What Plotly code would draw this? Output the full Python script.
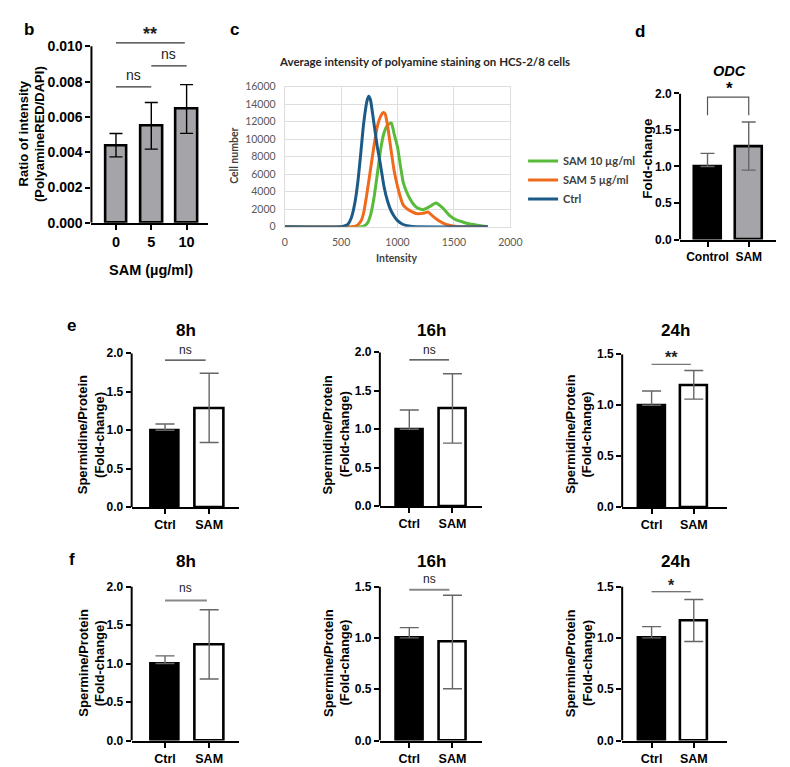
import plotly.graph_objects as go

W, H = 790, 767

# ---------------- data ----------------
# Panel b
b_doses = ['0', '5', '10']
b_mean = [0.0044, 0.0055, 0.00645]
b_sd = [0.00066, 0.00132, 0.00138]
b_ticks = [0.0, 0.002, 0.004, 0.006, 0.008, 0.010]

# Panel c (histogram curves)
c_ctrl_x = [0, 500, 530, 560, 590, 620, 650, 675, 700, 730, 745, 760, 790, 820, 850, 880, 910, 940,
            970, 1000, 1050, 1100, 1170, 1800]
c_ctrl_y = [0, 0, 100, 280, 1000, 2600, 5300, 8500, 11800, 14400, 14900, 14500, 11900, 9200, 7000,
            4600, 3000, 1900, 1200, 700, 260, 80, 0, 0]
c_sam5_x = [0, 600, 640, 675, 700, 730, 760, 790, 820, 850, 875, 890, 910, 940, 970, 1000, 1025, 1050,
            1080, 1110, 1170, 1225, 1270, 1310, 1370, 1430, 1490, 1550, 1800]
c_sam5_y = [0, 0, 150, 630, 1600, 3900, 6500, 9100, 11400, 12600, 13050, 12900, 11700, 9000, 6400, 4600,
            3400, 2500, 2100, 1850, 1500, 1530, 1680, 1250, 650, 260, 100, 0, 0]
c_sam10_x = [0, 680, 710, 735, 760, 790, 820, 850, 880, 910, 945, 970, 1000, 1025, 1050, 1080, 1110, 1140,
             1170, 1225, 1285, 1340, 1400, 1460, 1515, 1575, 1630, 1720, 1800]
c_sam10_y = [0, 0, 150, 450, 1300, 3200, 5900, 8800, 10700, 11600, 11850, 10600, 9100, 7000, 5100, 4000,
             3200, 2600, 2200, 1950, 2300, 2700, 2150, 1300, 820, 560, 340, 150, 0]
c_names = ['SAM 10 µg/ml', 'SAM 5 µg/ml', 'Ctrl']

# Panel d
d_groups = ['Control', 'SAM']
d_mean = [1.0, 1.28]
d_sd = [0.18, 0.33]

# Panels e / f
ef_groups = ['Ctrl', 'SAM']
e8_mean, e8_sd = [1.0, 1.29], [0.08, 0.45]
e16_mean, e16_sd = [1.0, 1.27], [0.25, 0.45]
e24_mean, e24_sd = [1.0, 1.20], [0.14, 0.14]
f8_mean, f8_sd = [1.0, 1.25], [0.10, 0.45]
f16_mean, f16_sd = [1.0, 0.96], [0.10, 0.455]
f24_mean, f24_sd = [1.0, 1.17], [0.11, 0.205]
ticks_2 = [0.0, 0.5, 1.0, 1.5, 2.0]
ticks_15 = [0.0, 0.5, 1.0, 1.5]

# ---------------- helpers ----------------
FONT = 'Liberation Sans'
fig = go.Figure()
annotations = []
shapes = []
layout = {}


def fx(p):
    return p / W


def fy(p):
    return 1 - p / H


def ax(n):
    s = '' if n == 1 else str(n)
    return 'x' + s, 'y' + s, 'xaxis' + s, 'yaxis' + s


def bar_panel(n, cats, means, sds, fills, geo, ticks, tickfmt, rtop, bw, errcol,
              tickfont=12, catfont=12, capw=10, hide_minus_dark=True):
    xr, yr, xk, yk = ax(n)
    xa, y0px, cat0, sp, xend, toppx = geo
    x = list(range(len(cats)))
    ppu = (y0px - toppx) / ticks[-1]
    top_px = y0px - rtop * ppu
    minus = [0 if (hide_minus_dark and f == 'black') else s for f, s in zip(fills, sds)]
    fig.add_trace(go.Bar(
        x=x, y=means, width=bw,
        marker=dict(color=fills, line=dict(color='black', width=2.6)),
        error_y=dict(type='data', array=sds, arrayminus=minus, symmetric=False,
                     color=errcol, thickness=1.4, width=capw),
        xaxis=xr, yaxis=yr, showlegend=False))
    layout[xk] = dict(
        domain=[fx(xa), fx(xend)], anchor=yr,
        range=[-(cat0 - xa) / sp, (xend - cat0) / sp],
        tickvals=x, ticktext=cats, showline=True, linewidth=2, linecolor='black',
        ticks='outside', ticklen=5, tickwidth=2, tickcolor='black',
        tickfont=dict(family=FONT, size=catfont, color='black', weight='bold'),
        showgrid=False, zeroline=False, fixedrange=True)
    layout[yk] = dict(
        domain=[fy(y0px), fy(top_px)], anchor=xr,
        range=[0, rtop], tickvals=ticks, tickformat=tickfmt,
        showline=False, ticks='outside', ticklen=5, tickwidth=2, tickcolor='black',
        tickfont=dict(family=FONT, size=tickfont, color='black', weight='bold'),
        showgrid=False, zeroline=False, fixedrange=True)
    shapes.append(dict(type='line', xref=xr + ' domain', yref=yr,
                       x0=0, x1=0, y0=0, y1=ticks[-1],
                       line=dict(color='black', width=2)))


def txt(x, y, s, size=12, weight='bold', angle=0, color='black', family=FONT,
        italic=False):
    annotations.append(dict(x=x, y=y, xref='paper', yref='paper', text=s, showarrow=False,
                            textangle=angle, xanchor='center', yanchor='middle',
                            font=dict(family=family, size=size, color=color, weight=weight,
                                      style='italic' if italic else 'normal')))


def sig(n, x0, x1, yl, label, yshift, size=12, weight='normal', color='#333', lw=1.2, legs=None):
    xr, yr, _, _ = ax(n)
    if legs is None:
        shapes.append(dict(type='line', xref=xr, yref=yr, x0=x0, x1=x1, y0=yl, y1=yl,
                           line=dict(color=color, width=lw)))
    else:
        shapes.append(dict(type='path', xref=xr, yref=yr,
                           path='M %f,%f L %f,%f L %f,%f L %f,%f' % (x0, legs, x0, yl, x1, yl, x1, legs),
                           line=dict(color=color, width=lw)))
    if label:
        annotations.append(dict(x=(x0 + x1) / 2, y=yl, xref=xr, yref=yr, text=label,
                                showarrow=False, yanchor='bottom', yshift=yshift,
                                font=dict(family=FONT, size=size, color='#222', weight=weight)))


# ---------------- panel b ----------------
bar_panel(1, b_doses, b_mean, b_sd, ['#a5a5a9'] * 3, (82, 212, 107, 36, 201, 32),
          b_ticks, '.3f', 0.0105, 0.61, 'black', tickfont=14, catfont=14.5, capw=6.5,
          hide_minus_dark=False)
sig(1, 0, 1, 0.0077, 'ns', 2, size=14)
sig(1, 1, 2, 0.0089, 'ns', 2, size=14)
sig(1, 0, 1.95, 0.0102, '**', -3, size=18, weight='bold')
txt(fx(13), fy(121), 'Ratio of intensity', size=13, angle=-90)
txt(fx(29), fy(121), '(PolyamineRED/DAPI)', size=13, angle=-90)
txt(fx(143), fy(260), 'SAM (µg/ml)', size=14.5)
txt(fx(18), fy(15), 'b', size=17)

# ---------------- panel c ----------------
CF = 'Lato'
for xs, ys, name, col in [(c_sam10_x, c_sam10_y, c_names[0], '#58bb3a'),
                          (c_sam5_x, c_sam5_y, c_names[1], '#f06a1c'),
                          (c_ctrl_x, c_ctrl_y, c_names[2], '#1c5a88')]:
    fig.add_trace(go.Scatter(x=xs, y=ys, mode='lines', name=name,
                             line=dict(color=col, width=3, shape='spline', smoothing=0.5),
                             xaxis='x2', yaxis='y2'))
layout['xaxis2'] = dict(domain=[fx(279), fx(509)], anchor='y2', range=[0, 2000], dtick=500,
                        showgrid=True, gridcolor='#dedede', gridwidth=1, showline=True, mirror=True,
                        linecolor='#dedede', linewidth=1, zeroline=False, ticks='',
                        ticklabelstandoff=6, tickformat='d',
                        tickfont=dict(family=CF, size=10.5, color='#595959'), fixedrange=True)
layout['yaxis2'] = dict(domain=[fy(216), fy(73)], anchor='x2', range=[0, 16000], dtick=2000,
                        showgrid=True, gridcolor='#dedede', gridwidth=1, showline=True, mirror=True,
                        linecolor='#dedede', linewidth=1, zeroline=False, ticks='',
                        ticklabelstandoff=6, tickformat='d',
                        tickfont=dict(family=CF, size=10.5, color='#595959'), fixedrange=True)
txt(fx(421), fy(47), 'Average intensity of polyamine staining on HCS-2/8 cells', size=11.5,
    family=CF, color='#262626')
txt(fx(228), fy(144), 'Cell number', size=10.5, angle=-90, family=CF, color='#404040')
txt(fx(393), fy(248), 'Intensity', size=10.5, family=CF, color='#404040')
txt(fx(228), fy(15), 'c', size=17)

# ---------------- panel d ----------------
bar_panel(3, d_groups, d_mean, d_sd, ['black', '#a5a5a9'], (682, 229, 710, 42, 780, 80),
          ticks_2, '.1f', 2.0, 0.64, '#666', tickfont=12, catfont=12, capw=7)
sig(3, 0, 1, 1.95, '', 0, legs=1.70, color='#555')
txt(fx(732), fy(75), '*', size=17)
txt(fx(732), fy(57), 'ODC', size=14.5, italic=True)
txt(fx(648), fy(146), 'Fold-change', size=13.5, angle=-90)
txt(fx(641), fy(17), 'd', size=17)

# ---------------- panels e / f ----------------
geo_cols = [(123, 157, 45, 232), (376, 406, 44, 480), (623, 653, 43, 730)]
e_data = [(e8_mean, e8_sd, ticks_2, 345, 502), (e16_mean, e16_sd, ticks_2, 344, 501),
          (e24_mean, e24_sd, ticks_15, 346, 502)]
f_data = [(f8_mean, f8_sd, ticks_2, 583, 740), (f16_mean, f16_sd, ticks_15, 583, 740),
          (f24_mean, f24_sd, ticks_15, 583, 740)]
title_x = [178, 429, 677]
ylab_x = [(73, 90), (323, 340), (570, 587)]

n = 4
for row, data, ty, l1, l2, cy in [(0, e_data, 322, 'Spermidine/Protein', '(Fold-change)', 428),
                                  (1, f_data, 557, 'Spermine/Protein', '(Fold-change)', 661)]:
    for i, (mean, sd, tk, toppx, y0px) in enumerate(data):
        xa, cat0, sp, xend = geo_cols[i]
        bar_panel(n, ef_groups, mean, sd, ['black', 'white'], (xa, y0px, cat0, sp, xend, toppx),
                  tk, '.1f', tk[-1], 0.64, '#666', tickfont=12, catfont=12.5, capw=9.5)
        txt(fx(title_x[i]), fy(ty), ['8h', '16h', '24h'][i], size=17)
        txt(fx(ylab_x[i][0]), fy(cy), l1, size=13, angle=-90)
        txt(fx(ylab_x[i][1]), fy(cy), l2, size=13, angle=-90)
        n += 1

# significance marks e/f
sig(4, 0, 0.92, 1.91, 'ns', 1)
sig(5, 0, 0.92, 1.90, 'ns', 1)
sig(6, 0, 0.93, 1.40, '**', -4, size=16, weight='bold', color='#777')
sig(7, 0, 0.95, 1.82, 'ns', 3, color='#888', lw=2)
sig(8, 0, 0.93, 1.47, 'ns', 2, color='#888', lw=2)
sig(9, 0, 0.93, 1.45, '*', -4, size=16, weight='bold', color='#444')
txt(fx(62), fy(317), 'e', size=17)
txt(fx(62), fy(555), 'f', size=17)

fig.update_layout(**layout)
fig.update_layout(
    width=W, height=H, margin=dict(l=0, r=0, t=0, b=0),
    paper_bgcolor='white', plot_bgcolor='white',
    annotations=annotations, shapes=shapes, bargap=0,
    showlegend=True,
    legend=dict(x=fx(522), y=fy(134), xanchor='left', yanchor='top',
                font=dict(family=CF, size=11, color='#404040', weight='bold'),
                bgcolor='rgba(0,0,0,0)', tracegroupgap=0, itemwidth=30),
)
fig.write_html('out.html')
